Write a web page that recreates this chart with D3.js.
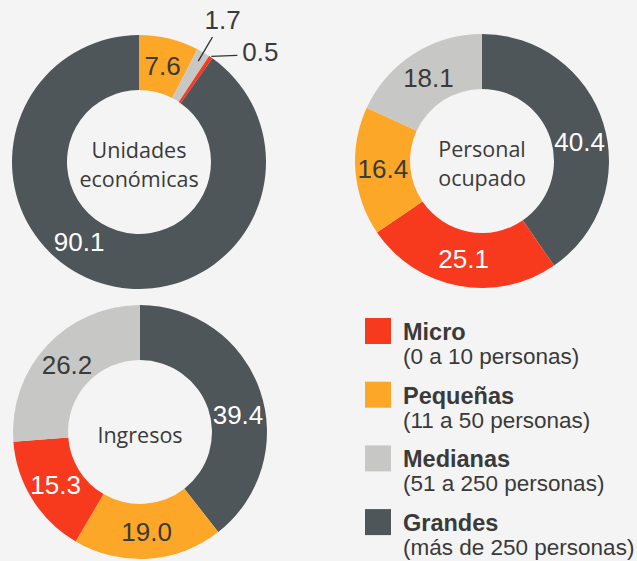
<!DOCTYPE html>
<html>
<head>
<meta charset="utf-8">
<script src="https://cdn.jsdelivr.net/npm/d3@7"></script>
<style>
  body { margin: 0; background: #f4f4f4; }
  svg { display: block; }
</style>
</head>
<body>
<svg id="canvas" width="637" height="561"></svg>
<script>
// categories and colours
const categories = ["Micro", "Pequeñas", "Medianas", "Grandes"];
const ranges = ["(0 a 10 personas)", "(11 a 50 personas)", "(51 a 250 personas)", "(más de 250 personas)"];
const colors = ["#f7391e", "#fda729", "#c7c7c5", "#4f5659"];

// each donut, slices listed clockwise from 12 o'clock
const unidadesCats = ["Pequeñas", "Medianas", "Micro", "Grandes"];
const unidadesVals = [7.6, 1.7, 0.5, 90.1];
const personalCats = ["Grandes", "Micro", "Pequeñas", "Medianas"];
const personalVals = [40.4, 25.1, 16.4, 18.1];
const ingresosCats = ["Grandes", "Pequeñas", "Micro", "Medianas"];
const ingresosVals = [39.4, 19.0, 15.3, 26.2];

let svg = d3.select("#canvas");

const color = d3.scaleOrdinal().domain(categories).range(colors);
const rOuter = 127, rInner = 72;
const arc = d3.arc().innerRadius(rInner).outerRadius(rOuter);
const pie = d3.pie().sort(null).value(d => d.v);
const numFont = "'Liberation Sans', Arial, sans-serif";

// a point at a given angle (radians, clockwise from top) and radius
let polar = (a, r) => [r * Math.sin(a), -r * Math.cos(a)];

let donut = (cx, cy, cats, vals, title, opts) => {
  opts = opts || {};
  let data = cats.map((c, i) => ({ c: c, v: vals[i] }));
  let g = svg.append("g").attr("transform", `translate(${cx},${cy})`);
  let arcs = pie(data);

  g.selectAll("path")
    .data(arcs)
    .enter()
    .append("path")
    .attr("d", arc)
    .attr("fill", d => color(d.data.c));

  arcs.forEach(d => {
    let txt = d3.format(".1f")(d.data.v);
    let dark = d.data.c == "Micro" || d.data.c == "Grandes";
    if (opts.outside && opts.outside.includes(d.data.c)) {
      // small slices get a leader line
      let mid = (d.startAngle + d.endAngle) / 2;
      let p0 = polar(mid, rOuter - 10);
      let p1, tx, ty, anchor;
      if (d.data.c == "Medianas") {
        p1 = polar(mid, rOuter + 18);
        let t = polar(mid, rOuter + 38);
        tx = t[0]; ty = t[1] + 9; anchor = "middle";
      } else {
        p0 = polar(mid, rOuter + 1);
        p1 = [p0[0] + 26, p0[1] - 1];
        tx = p1[0] + 5; ty = p1[1] + 6; anchor = "start";
      }
      g.append("line")
        .attr("x1", p0[0]).attr("y1", p0[1])
        .attr("x2", p1[0]).attr("y2", p1[1])
        .attr("stroke", "#333").attr("stroke-width", 1.4);
      g.append("text")
        .attr("x", tx).attr("y", ty)
        .attr("text-anchor", anchor)
        .attr("font-family", numFont).attr("font-size", 26)
        .attr("fill", "#3a3a3a")
        .text(txt);
      return;
    }
    let a = (d.startAngle + d.endAngle) / 2;
    if (opts.labelAngle && opts.labelAngle[d.data.c] != null) a = opts.labelAngle[d.data.c] * Math.PI / 180;
    let p = polar(a, (rInner + rOuter) / 2);
    g.append("text")
      .attr("x", p[0]).attr("y", p[1])
      .attr("dy", "0.36em")
      .attr("text-anchor", "middle")
      .attr("font-family", numFont).attr("font-size", 26)
      .attr("fill", dark ? "#ffffff" : "#3a3a3a")
      .text(txt);
  });

  let lines = title.split("\n");
  g.selectAll(".ttl")
    .data(lines)
    .enter()
    .append("text")
    .attr("x", 0)
    .attr("y", (d, i) => (i - (lines.length - 1) / 2) * 29 + 3)
    .attr("dy", "0.36em")
    .attr("text-anchor", "middle")
    .attr("font-family", "'Open Sans', sans-serif")
    .attr("font-size", 21.5)
    .attr("fill", "#3a3a3a")
    .text(d => d);
};

donut(139, 162, unidadesCats, unidadesVals, "Unidades\neconómicas",
  { outside: ["Medianas", "Micro"], labelAngle: { Grandes: 217 } });
donut(482, 161, personalCats, personalVals, "Personal\nocupado", { labelAngle: { Grandes: 79 } });
donut(140, 432, ingresosCats, ingresosVals, "Ingresos", { labelAngle: { Grandes: 80 } });

// legend
let legend = svg.append("g").attr("transform", "translate(365,318)");
let item = legend.selectAll("g")
  .data(categories)
  .enter()
  .append("g")
  .attr("transform", (d, i) => `translate(0,${i * 63.7})`);
item.append("rect")
  .attr("width", 26).attr("height", 26)
  .attr("fill", d => color(d));
item.append("text")
  .attr("x", 38).attr("y", 22)
  .attr("font-family", numFont).attr("font-weight", "bold").attr("font-size", 23.5)
  .attr("fill", "#3a3a3a")
  .text(d => d);
item.append("text")
  .attr("x", 38).attr("y", 46)
  .attr("font-family", numFont).attr("font-size", 22.5)
  .attr("fill", "#3a3a3a")
  .text((d, i) => ranges[i]);
</script>
</body>
</html>
